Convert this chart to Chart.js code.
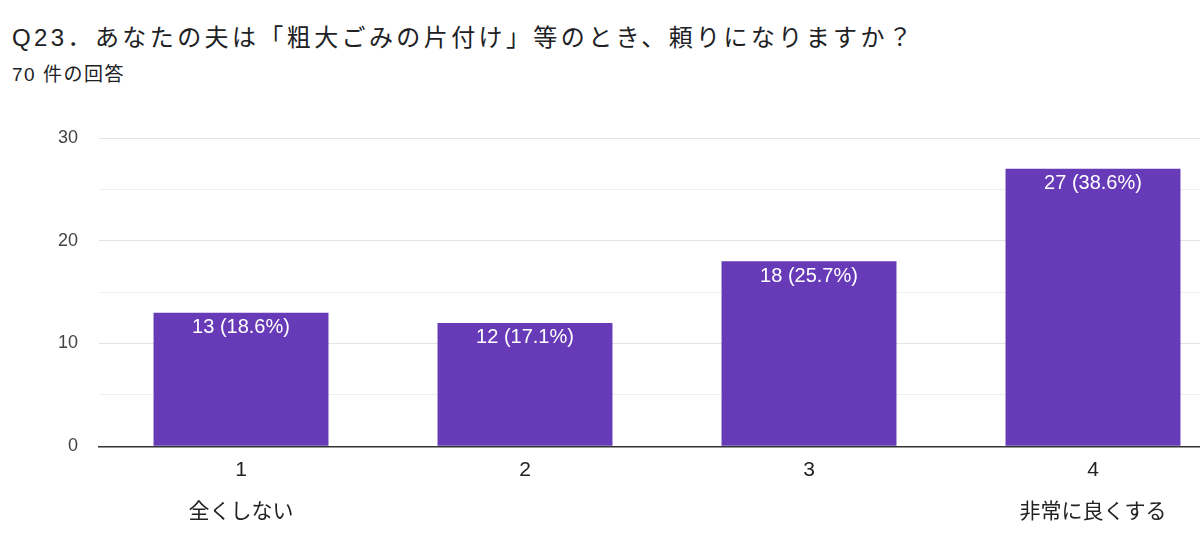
<!DOCTYPE html>
<html>
<head>
<meta charset="utf-8">
<script src="https://cdn.jsdelivr.net/npm/chart.js@4/dist/chart.umd.min.js"></script>
<style>
  html, body { margin: 0; padding: 0; background: #fff; width: 1200px; height: 550px; overflow: hidden; }
  #wrap { position: relative; width: 1240px; height: 550px; }
  #title { position: absolute; left: 12px; top: 18px; font: 24px "Liberation Sans", "Noto Sans CJK JP", sans-serif; color: #202124; letter-spacing: 3.4px; white-space: nowrap; }
  #sub { position: absolute; left: 12px; top: 59px; font: 19px "Liberation Sans", "Noto Sans CJK JP", sans-serif; color: #202124; letter-spacing: 1.5px; white-space: nowrap; }
  canvas { position: absolute; left: 0; top: 0; }
</style>
</head>
<body>
<div id="wrap">
  <div id="title">Q23．あなたの夫は「粗大ごみの片付け」等のとき、頼りになりますか？</div>
  <div id="sub">70 件の回答</div>
  <canvas id="chart" width="1240" height="550"></canvas>
</div>
<script>
const categories = [["1", "", "全くしない"], "2", "3", ["4", "", "非常に良くする"]];
const counts = [13, 12, 18, 27];
const percentLabels = ["18.6%", "17.1%", "25.7%", "38.6%"];
const yTicks = [0, 10, 20, 30];

const barColor = "#673ab7";
const fontFamily = "'Liberation Sans', 'Noto Sans CJK JP', sans-serif";

// white count + percent text just inside the top of each bar
const barLabels = {
  id: "barLabels",
  afterDatasetsDraw(chart) {
    const ctx = chart.ctx;
    const meta = chart.getDatasetMeta(0);
    ctx.save();
    ctx.fillStyle = "#ffffff";
    ctx.font = "20px " + fontFamily;
    ctx.textAlign = "center";
    ctx.textBaseline = "middle";
    meta.data.forEach((bar, i) => {
      ctx.fillText(counts[i] + " (" + percentLabels[i] + ")", bar.x, bar.y + 15);
    });
    ctx.restore();
  }
};

new Chart(document.getElementById("chart").getContext("2d"), {
  type: "bar",
  data: {
    labels: categories,
    datasets: [{
      data: counts,
      backgroundColor: barColor,
      borderWidth: 0,
      categoryPercentage: 1,
      barPercentage: 0.616
    }]
  },
  options: {
    responsive: false,
    animation: false,
    layout: { padding: { top: 138, right: 5, bottom: 14, left: 0 } },
    plugins: {
      legend: { display: false },
      tooltip: { enabled: false }
    },
    scales: {
      x: {
        grid: { display: false, drawTicks: false },
        border: { display: true, color: "#333333", width: 1.5 },
        ticks: {
          color: "#222222",
          padding: 14,
          maxRotation: 0,
          font: { family: fontFamily, size: 21, lineHeight: 0.98 }
        }
      },
      y: {
        min: 0,
        max: 30,
        afterFit(scale) { scale.width = 99; },
        border: { display: false },
        grid: {
          drawTicks: false,
          color: ctx => (ctx.tick && ctx.tick.value % 10 === 0) ? "#e3e3e3" : "#eeeeee",
          lineWidth: 1
        },
        ticks: {
          stepSize: 5,
          padding: 21,
          color: "#444444",
          font: { family: fontFamily, size: 18 },
          callback: v => yTicks.includes(v) ? String(v) : ""
        }
      }
    }
  },
  plugins: [barLabels]
});
</script>
</body>
</html>
